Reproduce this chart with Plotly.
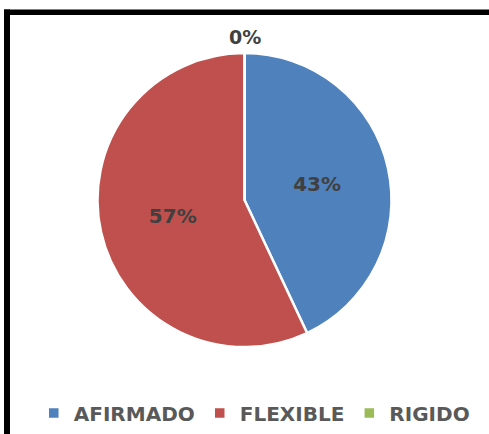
import plotly.graph_objects as go

labels = ["AFIRMADO", "FLEXIBLE", "RIGIDO"]
values = [43, 57, 0]
colors = ["#4F81BD", "#C0504D", "#9BBB59"]

W, H = 489, 434
total = sum(values)
zero_label = f"{values[2] / total:.0%}"

fig = go.Figure()
fig.add_trace(go.Pie(
    labels=labels,
    values=values,
    sort=False,
    direction="clockwise",
    rotation=0,
    marker=dict(colors=colors, line=dict(color="white", width=2.5)),
    texttemplate=["%{percent:.0%}", "%{percent:.0%}", ""],
    textposition="inside",
    insidetextorientation="horizontal",
    textfont=dict(family="DejaVu Sans", size=20, color="#404040", weight="bold"),
    domain=dict(x=[0, 1], y=[1 - 347 / H, 1 - 53 / H]),
    hoverinfo="label+percent",
    showlegend=True,
))

fig.update_layout(
    width=W, height=H,
    margin=dict(l=0, r=0, t=0, b=0, autoexpand=False),
    paper_bgcolor="white",
    showlegend=True,
    legend=dict(
        orientation="h",
        x=0.52, xanchor="center",
        y=1 - 413 / H, yanchor="middle",
        font=dict(family="DejaVu Sans", size=20, color="#595959", weight="bold"),
        itemwidth=30,
        traceorder="normal",
    ),
    annotations=[
        dict(text=zero_label, xref="paper", yref="paper",
             x=0.5, y=1 - 37 / H, xanchor="center", yanchor="middle",
             showarrow=False,
             font=dict(family="DejaVu Sans", size=19, color="#404040", weight="bold")),
    ],
    shapes=[
        dict(type="rect", xref="paper", yref="paper",
             x0=4 / W, x1=1.0, y0=1 - 15 / H, y1=1 - 9.5 / H,
             fillcolor="black", line=dict(width=0)),
        dict(type="rect", xref="paper", yref="paper",
             x0=4 / W, x1=10 / W, y0=0, y1=1 - 9.5 / H,
             fillcolor="black", line=dict(width=0)),
    ],
)

fig.write_html("out.html", config={"displayModeBar": False},
               post_script="document.body.style.margin='0';")
